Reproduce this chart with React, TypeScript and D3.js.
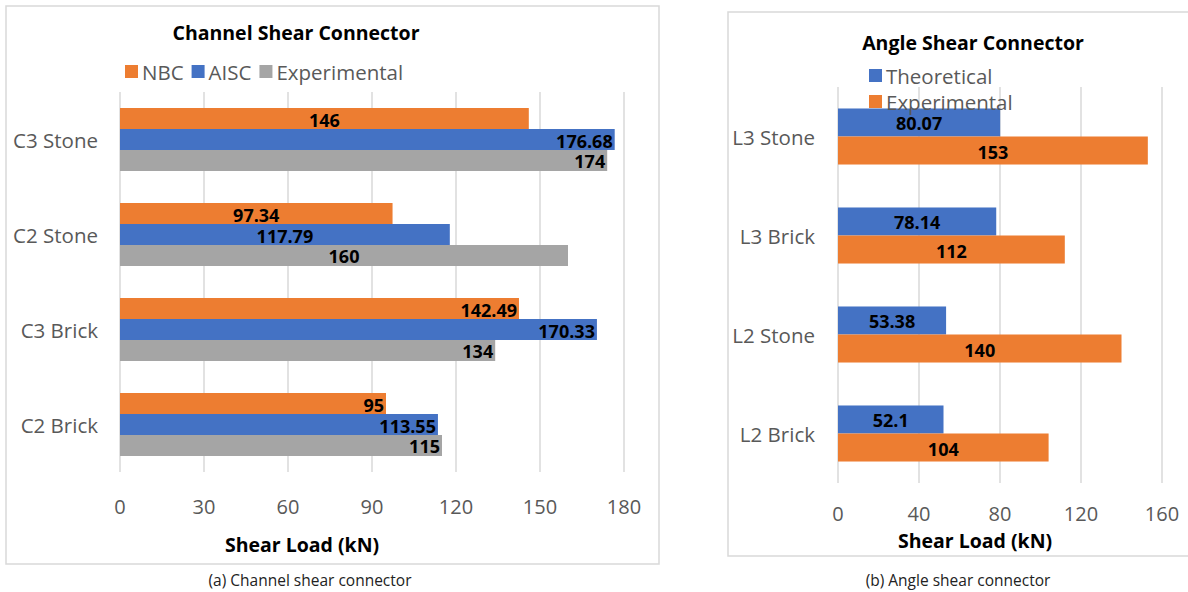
import React, { useEffect, useRef } from 'react';
import * as d3 from 'd3';

// Channel shear connector (left panel)
const channelCategories = ['C3 Stone', 'C2 Stone', 'C3 Brick', 'C2 Brick'];
const channelSeries = ['NBC', 'AISC', 'Experimental'];
const channelNBC = [146, 97.34, 142.49, 95];
const channelAISC = [176.68, 117.79, 170.33, 113.55];
const channelExperimental = [174, 160, 134, 115];
const channelTicks = [0, 30, 60, 90, 120, 150, 180];

// Angle shear connector (right panel)
const angleCategories = ['L3 Stone', 'L3 Brick', 'L2 Stone', 'L2 Brick'];
const angleSeries = ['Theoretical', 'Experimental'];
const angleTheoretical = [80.07, 78.14, 53.38, 52.1];
const angleExperimental = [153, 112, 140, 104];
const angleTicks = [0, 40, 80, 120, 160];

const FONT = '"Open Sans", sans-serif';
const GREY_TEXT = '#595959';
const GRID = '#d9d9d9';

interface Row { cat: string; series: string; value: number; place: 'c' | 'e' }

interface PanelOpts {
    frame: [number, number, number, number];
    title: string;
    titleX: number;
    titleY: number;
    categories: string[];
    series: string[];
    colors: string[];
    rows: Row[];
    ticks: number[];
    xRange: [number, number];
    yRange: [number, number];
    padding: number;
    catX: number;
    tickY: number;
    axisTitleX: number;
    axisTitleY: number;
    legend: { x: number; y: number; vertical: boolean; step: number };
}

function drawPanel(root: d3.Selection<SVGSVGElement, unknown, null, undefined>, o: PanelOpts) {
    const g = root.append('g');

    g.append('rect')
        .attr('x', o.frame[0]).attr('y', o.frame[1])
        .attr('width', o.frame[2]).attr('height', o.frame[3])
        .attr('fill', '#fff').attr('stroke', GRID).attr('stroke-width', 1.5);

    const x = d3.scaleLinear()
        .domain([o.ticks[0], o.ticks[o.ticks.length - 1]])
        .range(o.xRange);

    const y = d3.scaleBand()
        .domain(o.categories)
        .range(o.yRange)
        .paddingInner(o.padding)
        .paddingOuter(o.padding / 2);

    const ys = d3.scaleBand()
        .domain(o.series)
        .range([0, y.bandwidth()]);

    const color = d3.scaleOrdinal<string, string>().domain(o.series).range(o.colors);

    // gridlines
    g.selectAll('line.grid')
        .data(o.ticks)
        .enter()
        .append('line')
        .attr('x1', d => x(d)).attr('x2', d => x(d))
        .attr('y1', o.yRange[0]).attr('y2', o.yRange[1])
        .attr('stroke', GRID).attr('stroke-width', 1.5);

    // tick labels
    g.selectAll('text.tick')
        .data(o.ticks)
        .enter()
        .append('text')
        .attr('x', d => x(d))
        .attr('y', o.tickY)
        .attr('text-anchor', 'middle')
        .attr('dominant-baseline', 'central')
        .style('font-family', FONT).style('font-size', '20px')
        .attr('fill', GREY_TEXT)
        .text(d => d);

    // category labels
    g.selectAll('text.cat')
        .data(o.categories)
        .enter()
        .append('text')
        .attr('x', o.catX)
        .attr('y', d => (y(d) || 0) + y.bandwidth() / 2)
        .attr('text-anchor', 'end')
        .attr('dominant-baseline', 'central')
        .style('font-family', FONT).style('font-size', '20.5px')
        .attr('fill', GREY_TEXT)
        .text(d => d);

    // bars
    g.selectAll('rect.bar')
        .data(o.rows)
        .enter()
        .append('rect')
        .attr('x', x(0))
        .attr('y', d => (y(d.cat) || 0) + (ys(d.series) || 0))
        .attr('width', d => x(d.value) - x(0))
        .attr('height', ys.bandwidth())
        .attr('fill', d => color(d.series));

    // data labels
    g.selectAll('text.val')
        .data(o.rows)
        .enter()
        .append('text')
        .attr('x', d => d.place === 'c' ? (x(0) + x(d.value)) / 2 : x(d.value) - 2)
        .attr('y', d => (y(d.cat) || 0) + (ys(d.series) || 0) + ys.bandwidth() / 2 + 1)
        .attr('text-anchor', d => d.place === 'c' ? 'middle' : 'end')
        .attr('dominant-baseline', 'central')
        .style('font-family', FONT).style('font-size', '18px').style('font-weight', 700)
        .attr('fill', '#000')
        .text(d => d.value);

    // title
    g.append('text')
        .attr('x', o.titleX).attr('y', o.titleY)
        .attr('text-anchor', 'middle').attr('dominant-baseline', 'central')
        .style('font-family', FONT).style('font-size', '19.5px').style('font-weight', 700)
        .attr('fill', '#000')
        .text(o.title);

    // axis title
    g.append('text')
        .attr('x', o.axisTitleX).attr('y', o.axisTitleY)
        .attr('text-anchor', 'middle').attr('dominant-baseline', 'central')
        .style('font-family', FONT).style('font-size', '19.5px').style('font-weight', 700)
        .attr('fill', '#000')
        .text('Shear Load (kN)');

    // legend
    let lx = o.legend.x;
    o.series.forEach((s, i) => {
        const ly = o.legend.vertical ? o.legend.y + i * o.legend.step : o.legend.y;
        const px = o.legend.vertical ? o.legend.x : lx;
        g.append('rect')
            .attr('x', px).attr('y', ly - 6)
            .attr('width', 13).attr('height', 13)
            .attr('fill', color(s));
        const t = g.append('text')
            .attr('x', px + 17).attr('y', ly + 1)
            .attr('dominant-baseline', 'central')
            .style('font-family', FONT).style('font-size', '20.5px')
            .attr('fill', GREY_TEXT)
            .text(s);
        const w = (t.node() as SVGTextElement).getComputedTextLength();
        lx = px + 17 + w + 8;
    });
}

const App: React.FC = () => {
    const svgRef = useRef<SVGSVGElement>(null);

    useEffect(() => {
        const svg = d3.select(svgRef.current as SVGSVGElement);
        svg.selectAll('*').remove();

        const channelPlace: ('c' | 'e')[][] = [
            ['c', 'e', 'e'],
            ['c', 'c', 'c'],
            ['e', 'e', 'e'],
            ['e', 'e', 'e'],
        ];
        const channelRows: Row[] = [];
        channelCategories.forEach((c, i) => {
            [channelNBC, channelAISC, channelExperimental].forEach((arr, j) => {
                channelRows.push({ cat: c, series: channelSeries[j], value: arr[i], place: channelPlace[i][j] });
            });
        });

        const angleRows: Row[] = [];
        angleCategories.forEach((c, i) => {
            [angleTheoretical, angleExperimental].forEach((arr, j) => {
                angleRows.push({ cat: c, series: angleSeries[j], value: arr[i], place: 'c' });
            });
        });

        drawPanel(svg, {
            frame: [6, 6, 653, 558],
            title: 'Channel Shear Connector',
            titleX: 296, titleY: 32,
            categories: channelCategories,
            series: channelSeries,
            colors: ['#ed7d31', '#4472c4', '#a5a5a5'],
            rows: channelRows,
            ticks: channelTicks,
            xRange: [120, 624],
            yRange: [92, 472],
            padding: 0.337,
            catX: 98,
            tickY: 506,
            axisTitleX: 302, axisTitleY: 544,
            legend: { x: 125, y: 71, vertical: false, step: 0 },
        });

        drawPanel(svg, {
            frame: [728, 12, 480, 544],
            title: 'Angle Shear Connector',
            titleX: 973, titleY: 42,
            categories: angleCategories,
            series: angleSeries,
            colors: ['#4472c4', '#ed7d31'],
            rows: angleRows,
            ticks: angleTicks,
            xRange: [838, 1162],
            yRange: [87, 483],
            padding: 0.434,
            catX: 815,
            tickY: 513,
            axisTitleX: 975, axisTitleY: 540,
            legend: { x: 869, y: 75, vertical: true, step: 26 },
        });

        // captions
        svg.append('text')
            .attr('x', 310).attr('y', 580)
            .attr('text-anchor', 'middle').attr('dominant-baseline', 'central')
            .style('font-family', FONT).style('font-size', '15.5px')
            .attr('fill', '#222')
            .text('(a) Channel shear connector');
        svg.append('text')
            .attr('x', 958).attr('y', 580)
            .attr('text-anchor', 'middle').attr('dominant-baseline', 'central')
            .style('font-family', FONT).style('font-size', '15.5px')
            .attr('fill', '#222')
            .text('(b) Angle shear connector');
    }, []);

    return (
        <svg ref={svgRef} width={1188} height={592}
            style={{ position: 'absolute', left: 0, top: 0, background: '#fff' }} />
    );
};

export default App;
